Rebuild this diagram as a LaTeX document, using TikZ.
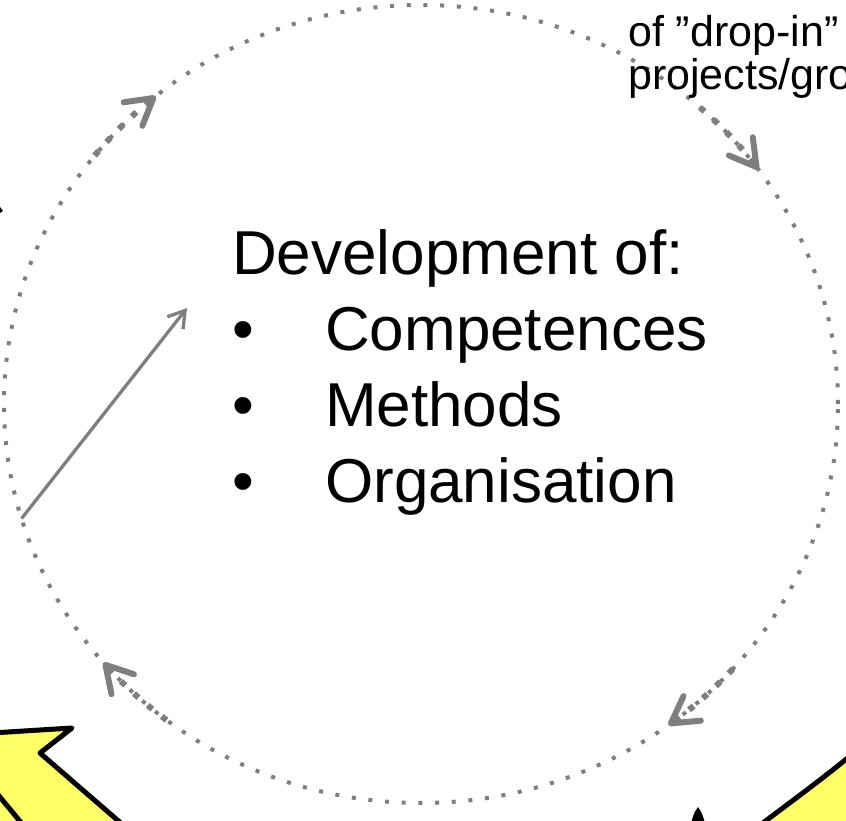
\documentclass[tikz,border=0pt]{standalone}
\usepackage{fontspec}
\setmainfont{Liberation Sans}
\usetikzlibrary{shapes.geometric,arrows.meta,positioning}
\definecolor{ringgray}{HTML}{7F7F7F}
\definecolor{arrowyellow}{HTML}{FFFF66}
\tikzstyle{maintext} = [inner sep=0pt, font=\fontsize{62}{76}\selectfont, anchor=base west]
\tikzstyle{sidetext} = [inner sep=0pt, font=\fontsize{43}{43}\selectfont, anchor=base west]
\tikzstyle{ringline} = [ellipse, draw=ringgray, line width=4pt, dash pattern=on 4pt off 12.7pt,
    minimum width=834pt, minimum height=798pt, inner sep=0pt, outer sep=0pt]
\tikzstyle{cyclearrow} = [draw=ringgray, line width=6pt, dash pattern=on 6pt off 12pt,
    -{Straight Barb[length=26pt,width=30pt,round]}]
\tikzstyle{link} = [draw=ringgray, line width=3.3pt, -{Straight Barb[length=16pt,width=20pt]}]
\tikzstyle{bigarrow} = [fill=arrowyellow, draw=black, line width=5pt, line join=round]
\newcommand{\bul}{\makebox[93pt][l]{\textbullet}}

\begin{document}
\begin{tikzpicture}[x=1pt, y=1pt]
  \useasboundingbox (0,0) rectangle (846,821);
  \clip (0,0) rectangle (846,821);
  % yellow arrows and black tips at the edges
  \path [bigarrow] (-40,86) -- (72,93) -- (40,68) -- (130,-10) -- (-40,-10) -- cycle;
  \draw [black, line width=5pt] (-10,36) -- (28,-10);
  \path [bigarrow] (856,70) .. controls (830,48) and (795,22) .. (752,-10) -- (870,-10) -- (870,70) -- cycle;
  \fill (690,-5) .. controls (694,8) .. (698,14) .. controls (702,8) .. (706,-5) -- cycle;
  \fill (-6,622) -- (3,610) -- (-6,604) -- cycle;
  % the cycle
  \coordinate (c) at (421,417);
  \node [ringline] (ring) at (c) {};
  \foreach \t in {129.5,36,-53.6,220.4}
    \draw [cyclearrow] ([shift={({\t+12}:417pt and 399pt)}]c)
      arc [start angle=\t+12, end angle=\t, x radius=417pt, y radius=399pt];
  % texts
  \node [maintext] (dev) at (232,546) {Development of:};
  \node [maintext, below=76pt of dev.base west, anchor=base west] (comp) {\bul Competences};
  \node [maintext, below=76pt of comp.base west, anchor=base west] (meth) {\bul Methods};
  \node [maintext, below=76pt of meth.base west, anchor=base west] (orga) {\bul Organisation};
  \node [sidetext] (dropin) at (628,774) {of ”drop-in”};
  \node [sidetext, below=43pt of dropin.base west, anchor=base west] (proj) {projects/gro};
  \coordinate (devtip) at (187,513);
  \path [link] (ring.196) -- (devtip);
\end{tikzpicture}
\end{document}
